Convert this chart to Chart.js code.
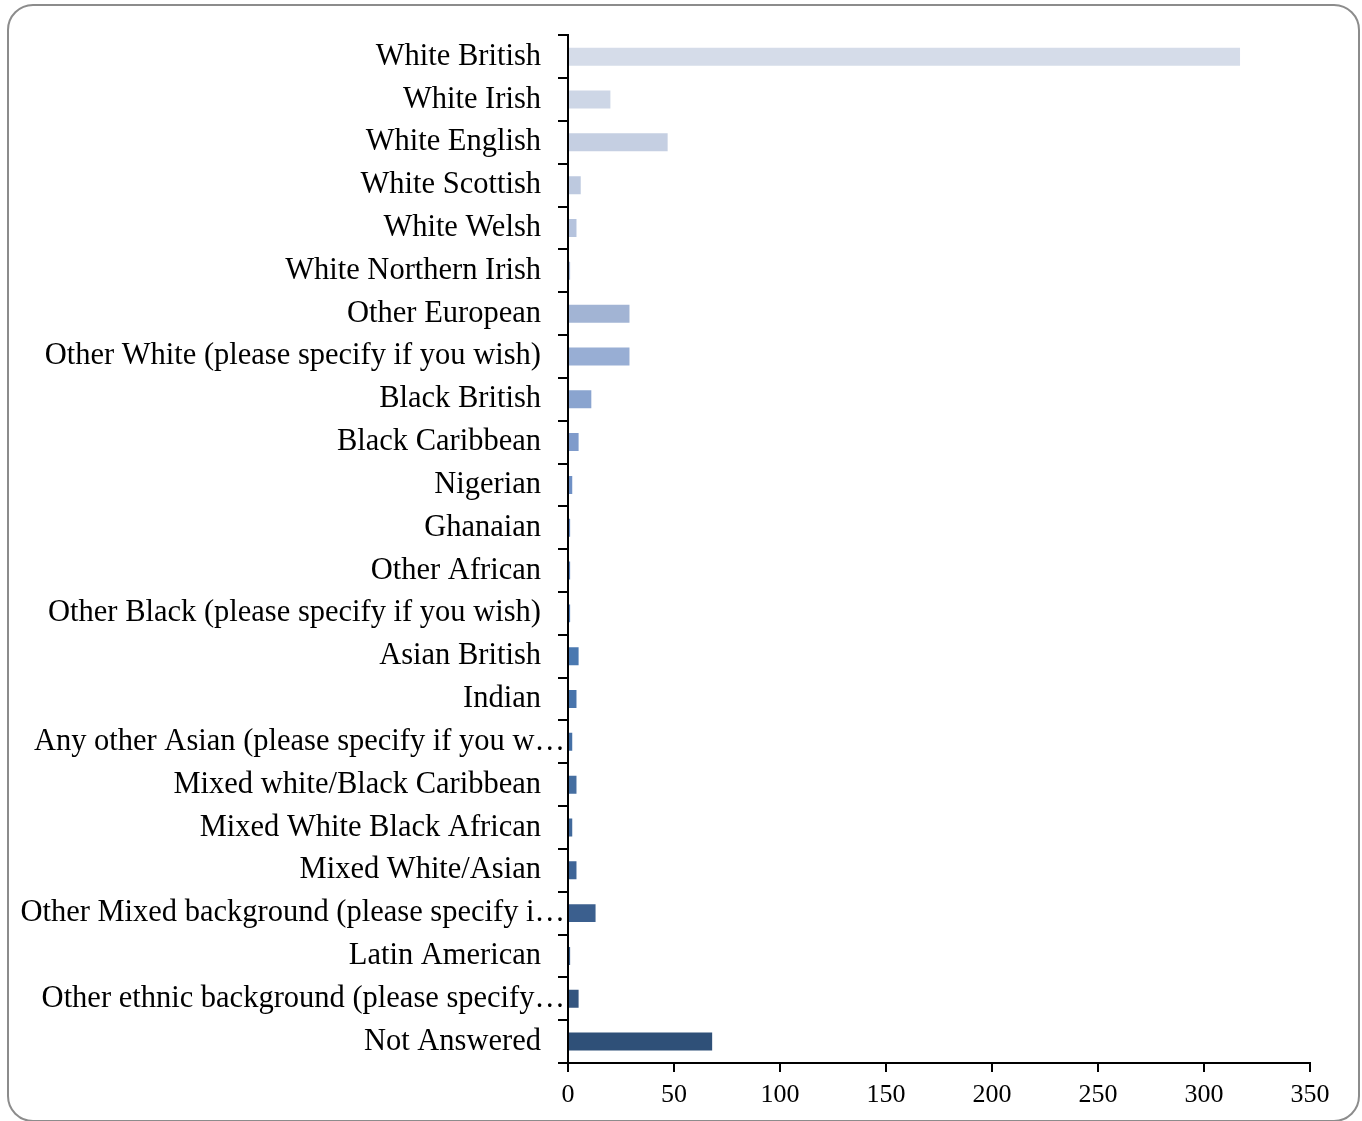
<!DOCTYPE html>
<html>
<head>
<meta charset="utf-8">
<script src="https://cdn.jsdelivr.net/npm/chart.js@4/dist/chart.umd.min.js"></script>
<style>
  html, body { margin: 0; padding: 0; background: #fff; }
  #wrap { position: relative; width: 1362px; height: 1121px; overflow: hidden; }
  #frame { position: absolute; left: 7px; top: 4px; width: 1353px; height: 1118px;
           border: 2px solid #8c8c8c; border-radius: 26px; box-sizing: border-box; }
  canvas { position: absolute; left: 0; top: 0; }
</style>
</head>
<body>
<div id="wrap">
  <div id="frame"></div>
  <canvas id="ethChart" width="1362" height="1121"></canvas>
</div>
<script>
// categories
const categories = [
  "White British", "White Irish", "White English", "White Scottish", "White Welsh",
  "White Northern Irish", "Other European", "Other White (please specify if you wish)",
  "Black British", "Black Caribbean", "Nigerian", "Ghanaian", "Other African",
  "Other Black (please specify if you wish)", "Asian British", "Indian",
  "Any other Asian (please specify if you w…", "Mixed white/Black Caribbean",
  "Mixed White Black African", "Mixed White/Asian", "Other Mixed background (please specify i…",
  "Latin American", "Other ethnic background (please specify…", "Not Answered"
];

// counts
const counts = [317, 20, 47, 6, 4, 1, 29, 29, 11, 5, 2, 1, 1, 1, 5, 4, 2, 4, 2, 4, 13, 1, 5, 68];

const xTicks = [0, 50, 100, 150, 200, 250, 300, 350];

// bar colours, light to dark
const barColors = [
  "#d5dce9", "#cdd6e6", "#c5cfe2", "#bdc9df", "#b5c3dd", "#aabbd9", "#a2b4d4", "#98aed4",
  "#8aa4cf", "#7f9bcb", "#6f90c5", "#6387c0", "#5a81bc", "#527cb7", "#4a78b0", "#4874ab",
  "#4570a6", "#456ea0", "#41699b", "#3f6597", "#3b5f8e", "#375a86", "#34557f", "#2f5078"
];

// truncated labels run a bit past the others, up to the axis
const shiftCut = {
  id: "shiftCut",
  beforeDraw(chart) {
    const items = chart.scales.y.getLabelItems();
    items.forEach(it => {
      if (!it._moved && String(it.label).endsWith("…")) {
        it.options.translation[0] += 24;
        it._moved = true;
      }
    });
  }
};

new Chart(document.getElementById("ethChart"), {
  type: "bar",
  data: {
    labels: categories,
    datasets: [{
      data: counts,
      backgroundColor: barColors,
      borderWidth: 0,
      barPercentage: 0.42,
      categoryPercentage: 1
    }]
  },
  options: {
    indexAxis: "y",
    responsive: false,
    animation: false,
    layout: { padding: { left: 8, top: 33, right: 52, bottom: 0 } },
    plugins: { legend: { display: false }, tooltip: { enabled: false } },
    scales: {
      y: {
        afterFit: s => { s.width = 560; },
        border: { color: "#000", width: 2 },
        grid: { drawOnChartArea: false, color: "#000", lineWidth: 2, tickLength: 10, offset: true },
        ticks: { color: "#000", padding: 17, font: { family: "Liberation Serif", size: 30.5 } }
      },
      x: {
        min: 0, max: 350,
        afterBuildTicks: s => { s.ticks = xTicks.map(v => ({ value: v })); },
        afterFit: s => { s.height = 58; },
        border: { color: "#000", width: 2 },
        grid: { drawOnChartArea: false, color: "#000", lineWidth: 2, tickLength: 9 },
        ticks: { color: "#000", padding: 8, font: { family: "Liberation Serif", size: 26 } }
      }
    }
  },
  plugins: [shiftCut]
});
</script>
</body>
</html>
